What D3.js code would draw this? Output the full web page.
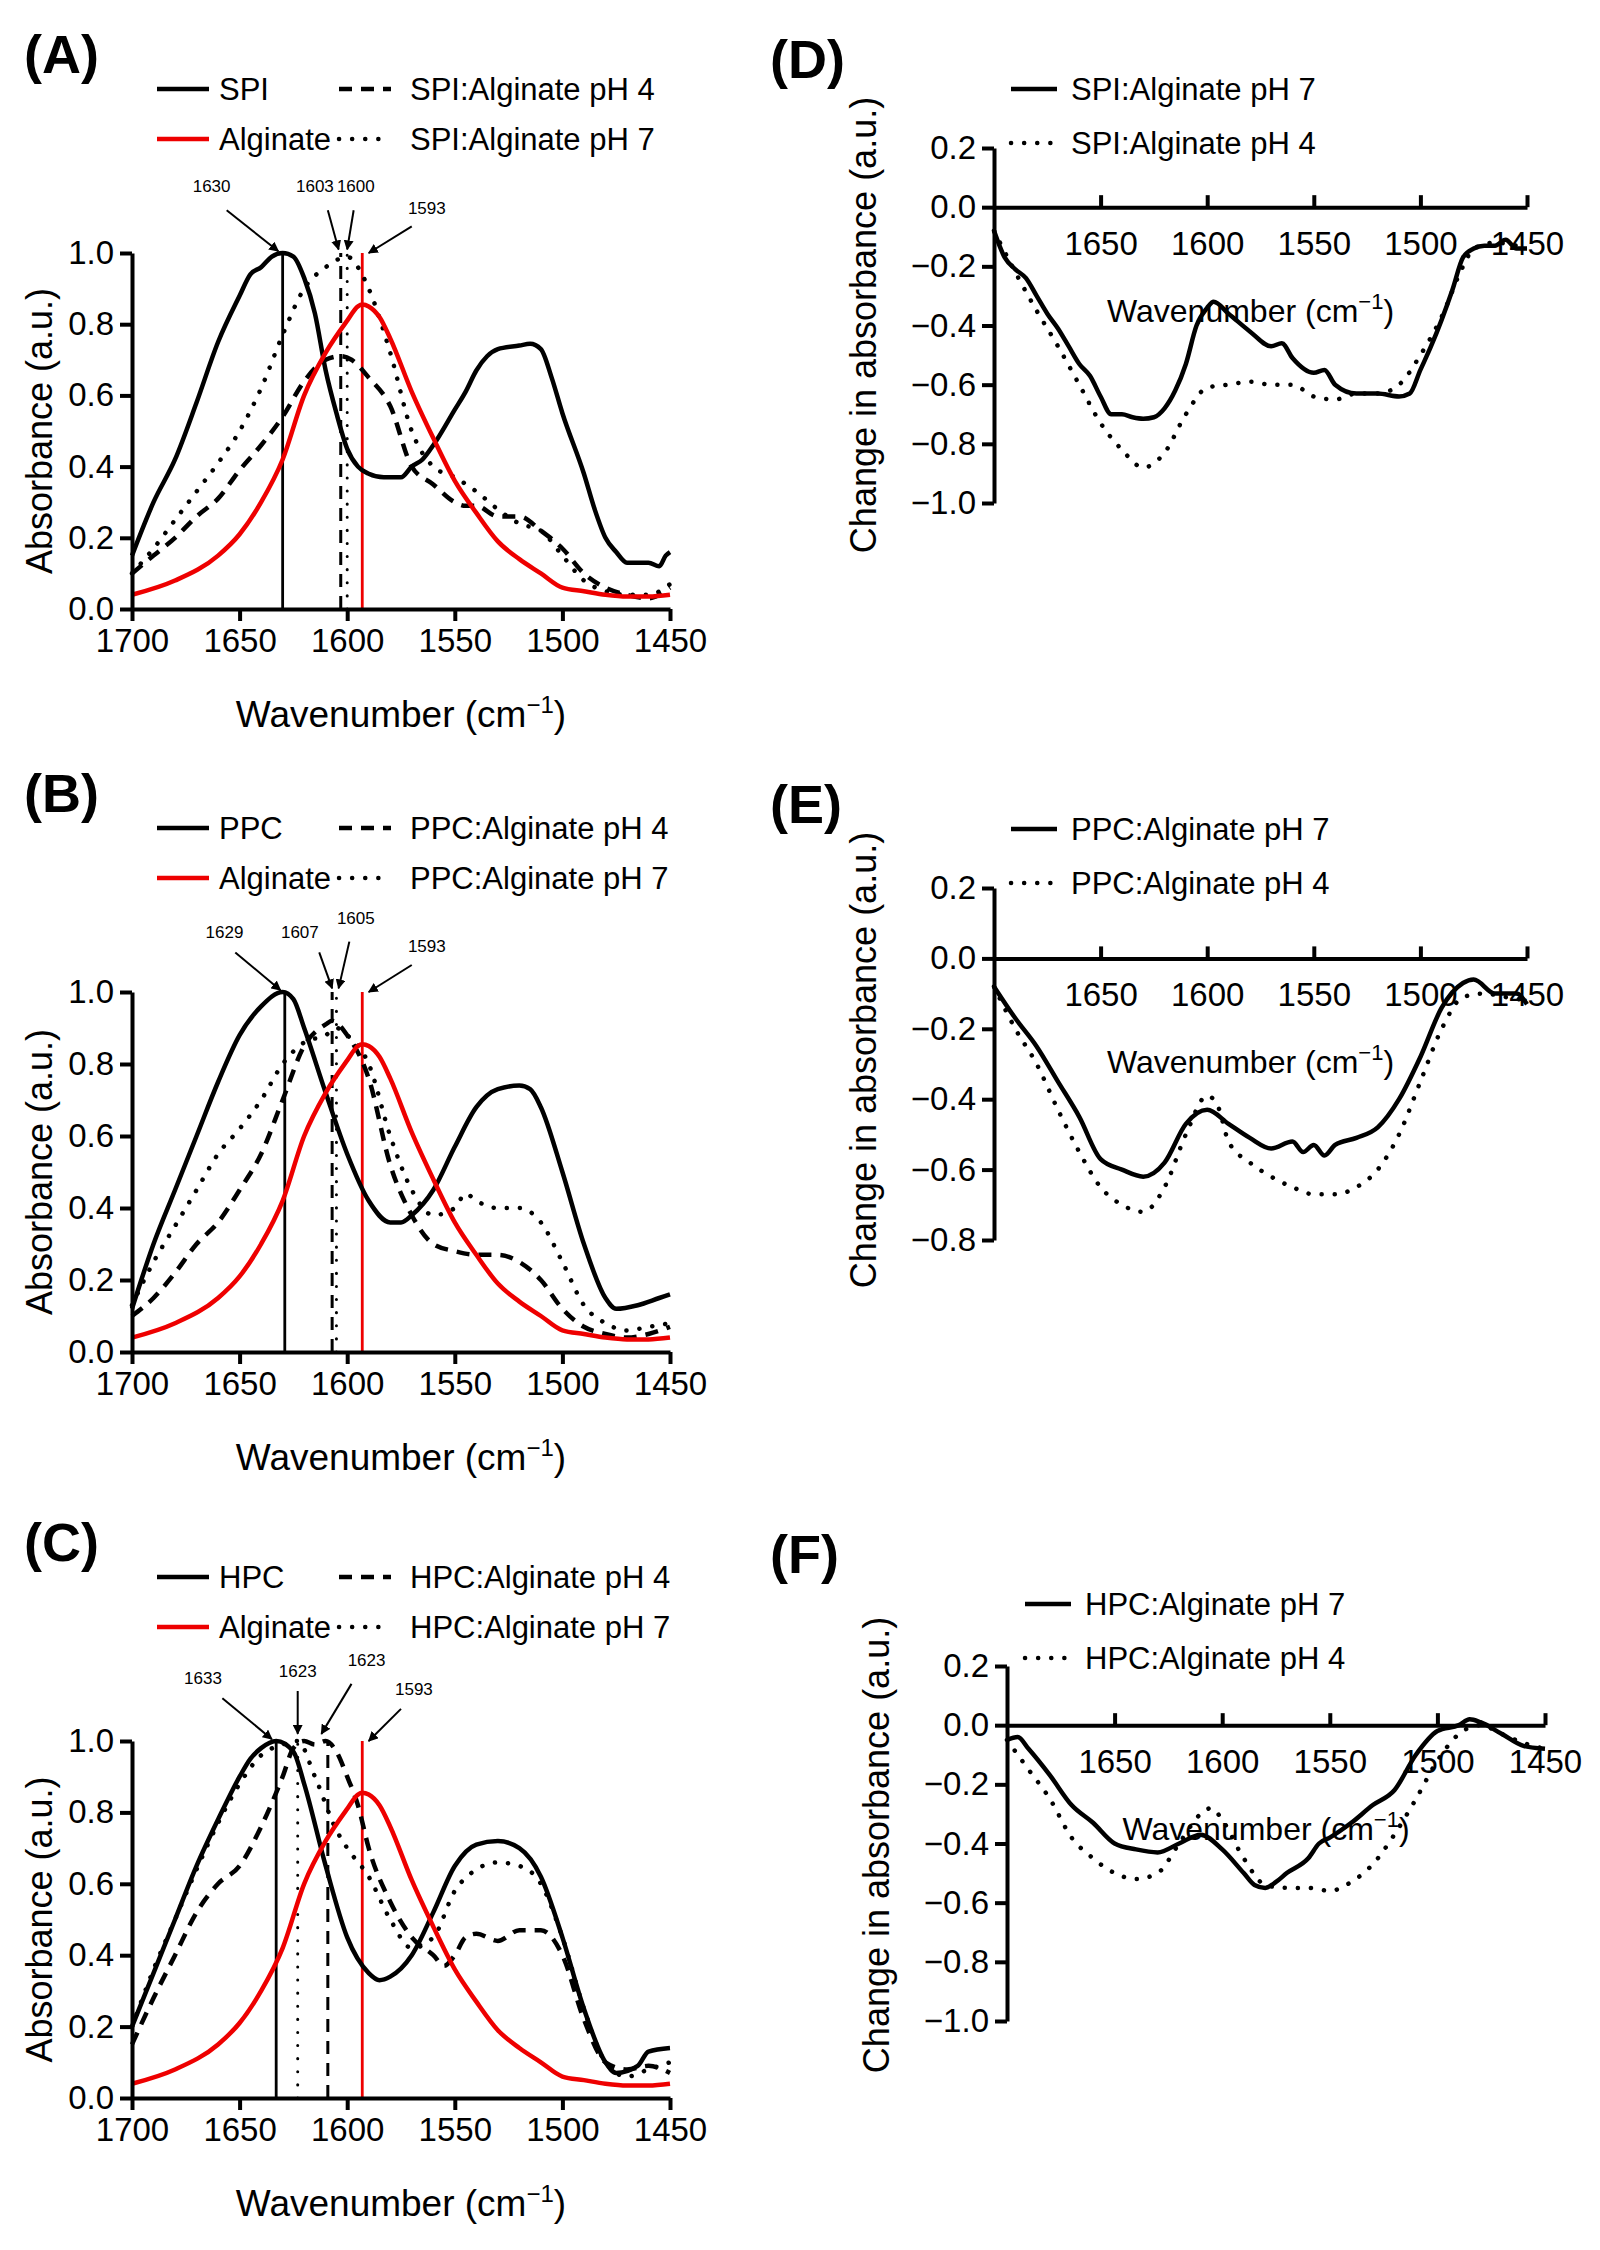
<!DOCTYPE html><html><head><meta charset="utf-8">
<script src="https://cdn.jsdelivr.net/npm/d3@7"></script>
<style>body{margin:0;background:#fff}text{font-family:Arial,"Liberation Sans",sans-serif}</style></head><body>
<svg id="c" width="1600" height="2250"></svg>
<script>
const xTicksLeft=[1700,1650,1600,1550,1500,1450];
const xTicksRight=[1650,1600,1550,1500,1450];
const alginate=[[1700,.04],[1680,.08],[1660,.15],[1650,.21],[1640,.3],[1630,.42],[1620,.6],[1610,.72],[1600,.81],[1595,.85],[1593,.855],[1590,.85],[1585,.82],[1580,.76],[1570,.61],[1560,.48],[1550,.36],[1540,.27],[1530,.19],[1520,.14],[1510,.1],[1500,.06],[1490,.05],[1480,.04],[1470,.035],[1460,.035],[1450,.04]];
const spi=[[1700,.15],[1690,.3],[1680,.42],[1670,.58],[1660,.75],[1650,.88],[1645,.94],[1640,.96],[1635,.99],[1630,1],[1625,.99],[1620,.93],[1615,.83],[1610,.67],[1605,.55],[1600,.45],[1595,.4],[1590,.38],[1583,.37],[1575,.37],[1570,.4],[1565,.42],[1560,.46],[1550,.56],[1545,.61],[1540,.67],[1535,.71],[1530,.73],[1520,.74],[1515,.745],[1510,.73],[1505,.65],[1500,.55],[1490,.38],[1485,.28],[1480,.2],[1475,.16],[1470,.13],[1460,.13],[1455,.12],[1452,.15],[1450,.16]];
const spiPH4=[[1700,.1],[1690,.15],[1680,.2],[1670,.26],[1660,.31],[1650,.39],[1640,.46],[1630,.54],[1620,.64],[1610,.7],[1603,.71],[1598,.7],[1590,.65],[1580,.57],[1570,.4],[1560,.35],[1550,.3],[1545,.29],[1540,.29],[1530,.26],[1520,.26],[1510,.22],[1500,.17],[1490,.1],[1480,.06],[1470,.04],[1460,.03],[1450,.06]];
const spiPH7=[[1700,.1],[1690,.17],[1680,.25],[1670,.33],[1660,.41],[1650,.5],[1640,.62],[1630,.77],[1620,.9],[1610,.96],[1605,.98],[1600,.99],[1595,.96],[1590,.9],[1580,.72],[1570,.5],[1560,.4],[1550,.37],[1540,.33],[1530,.28],[1520,.24],[1510,.22],[1500,.15],[1490,.08],[1480,.05],[1470,.04],[1460,.04],[1450,.07]];
const ppc=[[1700,.12],[1690,.3],[1680,.45],[1670,.6],[1660,.75],[1650,.88],[1640,.96],[1630,1],[1625,.98],[1620,.9],[1610,.72],[1600,.55],[1590,.42],[1580,.36],[1575,.36],[1570,.38],[1560,.45],[1550,.57],[1540,.68],[1530,.73],[1520,.74],[1515,.73],[1510,.68],[1500,.5],[1490,.3],[1480,.15],[1475,.12],[1465,.13],[1455,.15],[1450,.16]];
const ppcPH4=[[1700,.1],[1690,.15],[1680,.22],[1670,.3],[1660,.36],[1650,.45],[1640,.55],[1630,.7],[1620,.85],[1610,.91],[1607,.92],[1600,.88],[1590,.76],[1580,.52],[1570,.38],[1560,.3],[1550,.28],[1540,.27],[1530,.27],[1520,.25],[1510,.2],[1500,.12],[1490,.07],[1480,.05],[1470,.04],[1460,.05],[1450,.07]];
const ppcPH7=[[1700,.13],[1690,.25],[1680,.35],[1670,.45],[1660,.55],[1650,.62],[1640,.7],[1630,.8],[1620,.86],[1610,.88],[1605,.9],[1600,.88],[1590,.8],[1580,.6],[1570,.45],[1560,.38],[1550,.4],[1545,.44],[1540,.42],[1530,.4],[1520,.4],[1510,.36],[1500,.25],[1490,.13],[1480,.08],[1470,.06],[1460,.07],[1450,.08]];
const hpc=[[1700,.2],[1690,.35],[1680,.5],[1670,.65],[1660,.78],[1650,.9],[1645,.95],[1640,.98],[1633,1],[1625,.97],[1620,.88],[1610,.65],[1600,.45],[1590,.35],[1585,.33],[1580,.34],[1570,.4],[1560,.52],[1550,.65],[1540,.71],[1530,.72],[1520,.7],[1510,.62],[1500,.45],[1490,.25],[1480,.1],[1475,.07],[1465,.09],[1460,.13],[1450,.14]];
const hpcPH4=[[1700,.15],[1690,.28],[1680,.4],[1670,.52],[1660,.6],[1650,.65],[1640,.76],[1630,.9],[1625,.98],[1620,1],[1615,.99],[1610,1],[1605,.97],[1600,.9],[1595,.82],[1590,.7],[1580,.55],[1570,.45],[1560,.4],[1555,.37],[1550,.4],[1545,.45],[1540,.46],[1530,.44],[1520,.47],[1510,.47],[1500,.4],[1490,.22],[1480,.1],[1470,.08],[1460,.09],[1450,.07]];
const hpcPH7=[[1700,.2],[1690,.36],[1680,.5],[1670,.64],[1660,.77],[1650,.88],[1640,.96],[1630,.99],[1623,1],[1615,.9],[1605,.75],[1600,.7],[1590,.62],[1580,.5],[1570,.42],[1560,.45],[1550,.58],[1540,.64],[1530,.66],[1520,.65],[1510,.6],[1500,.45],[1490,.25],[1480,.1],[1470,.06],[1460,.08],[1450,.1]];
const dSpi7=[[1700,-.08],[1695,-.17],[1690,-.21],[1685,-.24],[1680,-.3],[1675,-.36],[1670,-.41],[1665,-.47],[1660,-.53],[1655,-.57],[1650,-.64],[1645,-.7],[1640,-.7],[1635,-.71],[1630,-.715],[1625,-.71],[1620,-.68],[1615,-.62],[1610,-.53],[1605,-.4],[1600,-.34],[1597,-.32],[1590,-.36],[1580,-.42],[1570,-.47],[1565,-.46],[1560,-.51],[1550,-.56],[1545,-.55],[1540,-.6],[1530,-.63],[1520,-.63],[1510,-.64],[1505,-.63],[1500,-.55],[1495,-.47],[1490,-.38],[1485,-.28],[1480,-.17],[1475,-.14],[1470,-.13],[1465,-.13],[1460,-.11],[1455,-.14],[1450,-.14]];
const dSpi4=[[1700,-.08],[1690,-.22],[1680,-.35],[1670,-.47],[1660,-.6],[1650,-.73],[1640,-.82],[1630,-.88],[1620,-.83],[1610,-.7],[1600,-.61],[1590,-.6],[1580,-.59],[1570,-.6],[1560,-.6],[1550,-.64],[1540,-.65],[1530,-.63],[1520,-.63],[1510,-.6],[1500,-.5],[1490,-.37],[1480,-.2],[1475,-.14],[1465,-.12],[1455,-.13],[1450,-.14]];
const dPpc7=[[1700,-.08],[1690,-.17],[1680,-.25],[1670,-.35],[1660,-.45],[1650,-.57],[1640,-.6],[1630,-.62],[1620,-.58],[1610,-.47],[1600,-.43],[1590,-.47],[1580,-.51],[1570,-.54],[1560,-.52],[1555,-.55],[1550,-.53],[1545,-.56],[1540,-.53],[1530,-.51],[1520,-.48],[1510,-.4],[1500,-.28],[1490,-.14],[1480,-.07],[1475,-.06],[1465,-.1],[1455,-.1],[1450,-.13]];
const dPpc4=[[1700,-.08],[1690,-.2],[1680,-.3],[1670,-.43],[1660,-.55],[1650,-.65],[1640,-.7],[1630,-.72],[1620,-.65],[1610,-.5],[1600,-.39],[1595,-.42],[1590,-.52],[1580,-.58],[1570,-.62],[1560,-.65],[1550,-.67],[1540,-.67],[1530,-.65],[1520,-.6],[1510,-.5],[1500,-.35],[1490,-.2],[1480,-.11],[1470,-.1],[1460,-.11],[1450,-.12]];
const dHpc7=[[1700,-.05],[1695,-.04],[1690,-.08],[1680,-.17],[1670,-.27],[1660,-.33],[1650,-.4],[1640,-.42],[1630,-.43],[1620,-.4],[1610,-.37],[1600,-.42],[1590,-.5],[1585,-.54],[1580,-.55],[1575,-.53],[1570,-.5],[1560,-.45],[1555,-.4],[1550,-.38],[1540,-.33],[1530,-.27],[1520,-.22],[1510,-.1],[1500,-.02],[1490,0],[1485,.02],[1480,.01],[1470,-.03],[1460,-.07],[1450,-.08]];
const dHpc4=[[1700,-.05],[1690,-.15],[1680,-.25],[1670,-.38],[1660,-.45],[1650,-.5],[1640,-.52],[1630,-.5],[1620,-.4],[1610,-.3],[1605,-.28],[1600,-.32],[1590,-.45],[1580,-.54],[1570,-.55],[1560,-.55],[1550,-.56],[1540,-.53],[1530,-.47],[1520,-.37],[1510,-.25],[1500,-.12],[1490,-.03],[1480,0],[1470,-.03],[1460,-.06],[1450,-.08]];

const svg=d3.select("#c");
const ST={solid:null,dash:"13,9",dot:"0.1,13"};
const FF="Arial,'Liberation Sans',sans-serif";
function style(p,c,s){p.attr("fill","none").attr("stroke",c).attr("stroke-width",4.5).attr("stroke-dasharray",ST[s]).attr("stroke-linecap",s=="dot"?"round":"butt").attr("stroke-linejoin","round");return p;}
svg.append("defs").append("marker").attr("id","ar").attr("viewBox","0 0 10 10").attr("refX",9).attr("refY",5).attr("markerWidth",5).attr("markerHeight",5).attr("orient","auto").append("path").attr("d","M0,0L10,5L0,10z");

function left(cfg){
  const g=svg.append("g");
  const x=d3.scaleLinear().domain([1700,1450]).range([132,670]);
  const y=d3.scaleLinear().domain([0,1]).range([cfg.y0,cfg.y1]);
  const line=d3.line().curve(d3.curveMonotoneX).x(d=>x(d[0])).y(d=>y(d[1]));
  g.append("text").text(cfg.label).attr("x",24).attr("y",cfg.y1-180).attr("font-size",54).attr("font-weight","bold");
  const L=[[cfg.names[0],"#000","solid",157,0],["Alginate","#e00","solid",157,1],[cfg.names[1],"#000","dash",339,0],[cfg.names[2],"#000","dot",339,1]];
  L.forEach(l=>{const ly=cfg.y1-164+l[4]*50;
    style(g.append("line").attr("x1",l[3]).attr("x2",l[3]+52).attr("y1",ly).attr("y2",ly),l[1],l[2]);
    g.append("text").text(l[0]).attr("x",l[3]+(l[3]>200?71:62)).attr("y",ly+11).attr("font-size",31);});
  cfg.vl.forEach(v=>style(g.append("line").attr("x1",x(v[0])).attr("x2",x(v[0])).attr("y1",y(0)).attr("y2",y(1)),v[1],v[2]).attr("stroke-width",v[2]=="solid"?2.8:3));
  style(g.append("path").attr("d",line(cfg.s[0])),"#000","solid");
  style(g.append("path").attr("d",line(cfg.s[1])),"#000","dash");
  style(g.append("path").attr("d",line(cfg.s[2])),"#000","dot");
  style(g.append("path").attr("d",line(alginate)),"#e00","solid");
  cfg.ann.forEach(a=>{g.append("text").text(a[0]).attr("x",x(a[1])).attr("y",y(a[2])).attr("text-anchor","middle").attr("font-size",17);
    g.append("line").attr("x1",x(a[3])).attr("y1",y(a[4])).attr("x2",x(a[5])).attr("y2",y(a[6])).attr("stroke","#000").attr("stroke-width",2).attr("marker-end","url(#ar)");});
  const ax=g.append("g").attr("transform",`translate(0,${y(0)})`).call(d3.axisBottom(x).tickValues(xTicksLeft).tickFormat(d3.format("d")).tickSize(12).tickSizeOuter(0).tickPadding(8));
  const ay=g.append("g").attr("transform",`translate(132,0)`).call(d3.axisLeft(y).tickValues([0,.2,.4,.6,.8,1]).tickFormat(d3.format(".1f")).tickSize(12).tickSizeOuter(0).tickPadding(6));
  [ax,ay].forEach(a=>{a.selectAll("path,line").attr("stroke-width",4);a.selectAll("text").attr("font-size",33).attr("font-family",FF);});
  g.append("text").attr("x",401).attr("y",y(0)+118).attr("text-anchor","middle").attr("font-size",37).html('Wavenumber (cm<tspan dy="-14" font-size="24">−1</tspan><tspan dy="14">)</tspan>');
  g.append("text").attr("transform",`translate(52,${(y(0)+y(1))/2}) rotate(-90)`).attr("text-anchor","middle").attr("font-size",36).text("Absorbance (a.u.)");
}
function right(cfg){
  const g=svg.append("g");
  const x=d3.scaleLinear().domain([1700,1450]).range([cfg.x0,cfg.x1]);
  const y=d3.scaleLinear().domain(cfg.dom).range([cfg.yb,cfg.yt]);
  const line=d3.line().curve(d3.curveMonotoneX).x(d=>x(d[0])).y(d=>y(d[1]));
  g.append("text").text(cfg.label).attr("x",770).attr("y",cfg.ly).attr("font-size",54).attr("font-weight","bold");
  [[cfg.names[0],"solid",0],[cfg.names[1],"dot",1]].forEach(l=>{const yy=cfg.lg+l[2]*54;
    style(g.append("line").attr("x1",cfg.lx).attr("x2",cfg.lx+46).attr("y1",yy).attr("y2",yy),"#000",l[1]);
    g.append("text").text(l[0]).attr("x",cfg.lx+60).attr("y",yy+11).attr("font-size",31);});
  style(g.append("path").attr("d",line(cfg.s[0])),"#000","solid");
  style(g.append("path").attr("d",line(cfg.s[1])),"#000","dot");
  const ax=g.append("g").attr("transform",`translate(0,${y(0)})`).call(d3.axisTop(x).tickValues(xTicksRight).tickFormat(d3.format("d")).tickSize(12).tickSizeOuter(0));
  ax.selectAll("text").attr("y",48).attr("dy",0);
  const ay=g.append("g").attr("transform",`translate(${cfg.x0},0)`).call(d3.axisLeft(y).tickValues(d3.range(cfg.dom[0],cfg.dom[1]+1e-6,0.2)).tickFormat(d=>d3.format(".1f")(Math.abs(d)<1e-9?0:d).replace("-","−")).tickSize(12).tickSizeOuter(0).tickPadding(6));
  [ax,ay].forEach(a=>{a.selectAll("path,line").attr("stroke-width",4);a.selectAll("text").attr("font-size",33).attr("font-family",FF);});
  g.append("text").attr("x",(cfg.x0+cfg.x1)/2-10).attr("y",y(0)+115).attr("text-anchor","middle").attr("font-size",32).html('Wavenumber (cm<tspan dy="-13" font-size="22">−1</tspan><tspan dy="13">)</tspan>');
  g.append("text").attr("transform",`translate(${cfg.x0-118},${cfg.tc}) rotate(-90)`).attr("text-anchor","middle").attr("font-size",36).text("Change in absorbance (a.u.)");
}
left({label:"(A)",y0:609,y1:253,names:["SPI","SPI:Alginate pH 4","SPI:Alginate pH 7"],s:[spi,spiPH4,spiPH7],
  vl:[[1630,"#000","solid"],[1603,"#000","dash"],[1600,"#000","dot"],[1593,"#e00","solid"]],
  ann:[["1630",1663,1.17,1656,1.12,1632,1.005],["1603",1615,1.17,1609,1.12,1604,1.01],["1600",1596,1.17,1597,1.12,1600,1.01],["1593",1563,1.11,1570,1.075,1590,1.0]]});
left({label:"(B)",y0:1352,y1:992,names:["PPC","PPC:Alginate pH 4","PPC:Alginate pH 7"],s:[ppc,ppcPH4,ppcPH7],
  vl:[[1629,"#000","solid"],[1607,"#000","dash"],[1605,"#000","dot"],[1593,"#e00","solid"]],
  ann:[["1629",1657,1.15,1652,1.11,1631,1.005],["1607",1622,1.15,1613,1.11,1607,1.01],["1605",1596,1.19,1599,1.14,1604,1.01],["1593",1563,1.11,1570,1.075,1590,1.0]]});
left({label:"(C)",y0:2098,y1:1741,names:["HPC","HPC:Alginate pH 4","HPC:Alginate pH 7"],s:[hpc,hpcPH4,hpcPH7],
  vl:[[1633,"#000","solid"],[1623,"#000","dot"],[1609,"#000","dash"],[1593,"#e00","solid"]],
  ann:[["1633",1667,1.16,1658,1.12,1635,1.005],["1623",1623,1.18,1623,1.14,1623,1.02],["1623",1591,1.21,1598,1.16,1612,1.02],["1593",1569,1.13,1575,1.09,1590,1.0]]});
right({label:"(D)",ly:78,x0:994,x1:1527,dom:[-1,0.2],yb:503,yt:148,names:["SPI:Alginate pH 7","SPI:Alginate pH 4"],s:[dSpi7,dSpi4],lx:1011,lg:89,tc:325});
right({label:"(E)",ly:823,x0:994,x1:1527,dom:[-0.8,0.2],yb:1240,yt:888,names:["PPC:Alginate pH 7","PPC:Alginate pH 4"],s:[dPpc7,dPpc4],lx:1011,lg:829,tc:1060});
right({label:"(F)",ly:1573,x0:1007,x1:1545,dom:[-1,0.2],yb:2021,yt:1666,names:["HPC:Alginate pH 7","HPC:Alginate pH 4"],s:[dHpc7,dHpc4],lx:1025,lg:1604,tc:1845});
</script></body></html>
